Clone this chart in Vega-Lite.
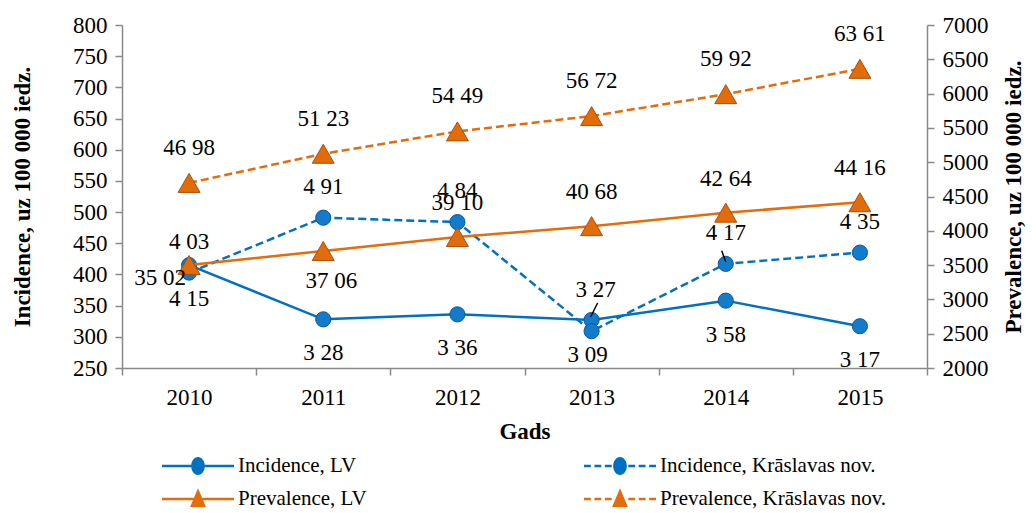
{
  "$schema": "https://vega.github.io/schema/vega-lite/v6.json",
  "width": 805,
  "height": 343,
  "autosize": {"type": "none"},
  "padding": {"left": 122, "top": 25, "right": 109, "bottom": 145},
  "background": "white",
  "config": {
    "font": "Liberation Serif",
    "view": {"stroke": null},
    "axis": {
      "grid": false,
      "domainColor": "#898989",
      "tickColor": "#898989",
      "domainWidth": 1.5,
      "tickWidth": 1.5,
      "tickSize": 7,
      "labelFont": "Liberation Serif",
      "labelFontSize": 23,
      "labelColor": "#000000",
      "titleFont": "Liberation Serif",
      "titleFontSize": 23,
      "titleFontWeight": "bold",
      "titleColor": "#000000"
    },
    "text": {"font": "Liberation Serif", "fontSize": 23, "color": "#000000", "baseline": "middle"}
  },
  "data": {
    "values": [
      {"year": 2010, "measure": "Incidence", "region": "LV", "series": "Incidence, LV", "value": 415, "label": "4 15"},
      {"year": 2011, "measure": "Incidence", "region": "LV", "series": "Incidence, LV", "value": 328, "label": "3 28"},
      {"year": 2012, "measure": "Incidence", "region": "LV", "series": "Incidence, LV", "value": 336, "label": "3 36"},
      {"year": 2013, "measure": "Incidence", "region": "LV", "series": "Incidence, LV", "value": 327, "label": "3 27"},
      {"year": 2014, "measure": "Incidence", "region": "LV", "series": "Incidence, LV", "value": 358, "label": "3 58"},
      {"year": 2015, "measure": "Incidence", "region": "LV", "series": "Incidence, LV", "value": 317, "label": "3 17"},
      {"year": 2010, "measure": "Incidence", "region": "Krāslavas nov.", "series": "Incidence, Krāslavas nov.", "value": 403, "label": "4 03"},
      {"year": 2011, "measure": "Incidence", "region": "Krāslavas nov.", "series": "Incidence, Krāslavas nov.", "value": 491, "label": "4 91"},
      {"year": 2012, "measure": "Incidence", "region": "Krāslavas nov.", "series": "Incidence, Krāslavas nov.", "value": 484, "label": "4 84"},
      {"year": 2013, "measure": "Incidence", "region": "Krāslavas nov.", "series": "Incidence, Krāslavas nov.", "value": 309, "label": "3 09"},
      {"year": 2014, "measure": "Incidence", "region": "Krāslavas nov.", "series": "Incidence, Krāslavas nov.", "value": 417, "label": "4 17"},
      {"year": 2015, "measure": "Incidence", "region": "Krāslavas nov.", "series": "Incidence, Krāslavas nov.", "value": 435, "label": "4 35"},
      {"year": 2010, "measure": "Prevalence", "region": "LV", "series": "Prevalence, LV", "value": 3502, "label": "35 02"},
      {"year": 2011, "measure": "Prevalence", "region": "LV", "series": "Prevalence, LV", "value": 3706, "label": "37 06"},
      {"year": 2012, "measure": "Prevalence", "region": "LV", "series": "Prevalence, LV", "value": 3910, "label": "39 10"},
      {"year": 2013, "measure": "Prevalence", "region": "LV", "series": "Prevalence, LV", "value": 4068, "label": "40 68"},
      {"year": 2014, "measure": "Prevalence", "region": "LV", "series": "Prevalence, LV", "value": 4264, "label": "42 64"},
      {"year": 2015, "measure": "Prevalence", "region": "LV", "series": "Prevalence, LV", "value": 4416, "label": "44 16"},
      {"year": 2010, "measure": "Prevalence", "region": "Krāslavas nov.", "series": "Prevalence, Krāslavas nov.", "value": 4698, "label": "46 98"},
      {"year": 2011, "measure": "Prevalence", "region": "Krāslavas nov.", "series": "Prevalence, Krāslavas nov.", "value": 5123, "label": "51 23"},
      {"year": 2012, "measure": "Prevalence", "region": "Krāslavas nov.", "series": "Prevalence, Krāslavas nov.", "value": 5449, "label": "54 49"},
      {"year": 2013, "measure": "Prevalence", "region": "Krāslavas nov.", "series": "Prevalence, Krāslavas nov.", "value": 5672, "label": "56 72"},
      {"year": 2014, "measure": "Prevalence", "region": "Krāslavas nov.", "series": "Prevalence, Krāslavas nov.", "value": 5992, "label": "59 92"},
      {"year": 2015, "measure": "Prevalence", "region": "Krāslavas nov.", "series": "Prevalence, Krāslavas nov.", "value": 6361, "label": "63 61"}
    ]
  },
  "encoding": {
    "x": {
      "field": "year",
      "type": "ordinal",
      "bandPosition": 0.5,
      "scale": {"type": "band", "paddingInner": 0, "paddingOuter": 0},
      "axis": {
        "title": "Gads",
        "labelAngle": 0,
        "tickBand": "extent",
        "labelPadding": 11,
        "titlePadding": 11
      }
    }
  },
  "layer": [
    {
      "transform": [{"filter": "datum.measure === 'Incidence'"}],
      "encoding": {
        "y": {
          "field": "value",
          "type": "quantitative",
          "scale": {"domain": [250, 800], "nice": false, "zero": false},
          "axis": {
            "orient": "left",
            "title": "Incidence, uz 100 000 iedz.",
            "values": [250, 300, 350, 400, 450, 500, 550, 600, 650, 700, 750, 800],
            "format": "d",
            "labelPadding": 8,
            "titlePadding": 38
          }
        }
      },
      "layer": [
        {
          "transform": [{"filter": "datum.region === 'LV'"}],
          "mark": {"type": "line", "color": "#0070C0", "strokeWidth": 2.5}
        },
        {
          "transform": [{"filter": "datum.region !== 'LV'"}],
          "mark": {"type": "line", "color": "#0070C0", "strokeWidth": 2.5, "strokeDash": [8, 4]}
        },
        {
          "mark": {"type": "point", "shape": "circle", "filled": true, "size": 230, "fill": "#137BCB", "stroke": "#0A5A9C", "strokeWidth": 1, "opacity": 1}
        },
        {
          "transform": [{"filter": "datum.region === 'LV' && datum.year === 2013"}],
          "mark": {"type": "rule", "color": "#000000", "strokeWidth": 1.5, "xOffset": -1, "yOffset": -3, "x2Offset": 6, "y2Offset": -17},
          "encoding": {"x2": {"field": "year"}, "y2": {"field": "value"}}
        },
        {
          "transform": [{"filter": "datum.region !== 'LV' && datum.year === 2014"}],
          "mark": {"type": "rule", "color": "#000000", "strokeWidth": 1.5, "xOffset": 0, "yOffset": -2, "x2Offset": -4, "y2Offset": -13},
          "encoding": {"x2": {"field": "year"}, "y2": {"field": "value"}}
        },
        {
          "transform": [{"filter": "datum.region === 'LV' && datum.year !== 2013"}],
          "mark": {"type": "text", "dy": 34},
          "encoding": {"text": {"field": "label"}}
        },
        {
          "transform": [{"filter": "datum.region === 'LV' && datum.year === 2013"}],
          "mark": {"type": "text", "dy": -30, "dx": 4},
          "encoding": {"text": {"field": "label"}}
        },
        {
          "transform": [{"filter": "datum.region !== 'LV' && datum.year !== 2013"}],
          "mark": {"type": "text", "dy": -31},
          "encoding": {"text": {"field": "label"}}
        },
        {
          "transform": [{"filter": "datum.region !== 'LV' && datum.year === 2013"}],
          "mark": {"type": "text", "dy": 24, "dx": -4},
          "encoding": {"text": {"field": "label"}}
        },
        {
          "transform": [{"filter": "datum.year < 0"}],
          "mark": {"type": "point", "filled": true, "size": 5184},
          "encoding": {
            "color": {
              "field": "series",
              "type": "nominal",
              "scale": {
                "domain": ["Incidence, LV", "Incidence, Krāslavas nov.", "Prevalence, LV", "Prevalence, Krāslavas nov."],
                "range": ["#0070C0", "#0070C0", "#E46C0A", "#E46C0A"]
              },
              "legend": {
                "title": null,
                "orient": "none",
                "direction": "horizontal",
                "legendX": 40,
                "legendY": 430,
                "columns": 2,
                "columnPadding": 217,
                "rowPadding": 11,
                "symbolSize": 5184,
                "symbolStrokeWidth": 0,
                "symbolOpacity": 1,
                "labelFont": "Liberation Serif",
                "labelFontSize": 21,
                "labelColor": "#000000",
                "labelOffset": 4,
                "labelLimit": 400,
                "clipHeight": 22,
                "padding": 0
              }
            },
            "shape": {
              "field": "series",
              "type": "nominal",
              "scale": {
                "domain": ["Incidence, LV", "Incidence, Krāslavas nov.", "Prevalence, LV", "Prevalence, Krāslavas nov."],
                "range": [
                  "M-1,-0.035H-0.19V0.035H-1Z M0.19,-0.035H1V0.035H0.19Z M-0.19,0A0.19,0.25 0 1,1 0.19,0A0.19,0.25 0 1,1 -0.19,0Z",
                  "M-1,-0.035H-0.81V0.035H-1Z M-0.71,-0.035H-0.52V0.035H-0.71Z M-0.42,-0.035H-0.23V0.035H-0.42Z M0.23,-0.035H0.42V0.035H0.23Z M0.52,-0.035H0.71V0.035H0.52Z M0.81,-0.035H1V0.035H0.81Z M-0.19,0A0.19,0.25 0 1,1 0.19,0A0.19,0.25 0 1,1 -0.19,0Z",
                  "M-1,-0.035H-0.12V0.035H-1Z M0.12,-0.035H1V0.035H0.12Z M0,-0.3L0.22,0.22H-0.22Z",
                  "M-1,-0.035H-0.81V0.035H-1Z M-0.71,-0.035H-0.52V0.035H-0.71Z M-0.42,-0.035H-0.23V0.035H-0.42Z M0.23,-0.035H0.42V0.035H0.23Z M0.52,-0.035H0.71V0.035H0.52Z M0.81,-0.035H1V0.035H0.81Z M0,-0.3L0.22,0.22H-0.22Z"
                ]
              },
              "legend": {
                "title": null,
                "orient": "none",
                "direction": "horizontal",
                "legendX": 40,
                "legendY": 430,
                "columns": 2,
                "columnPadding": 217,
                "rowPadding": 11,
                "symbolSize": 5184,
                "symbolStrokeWidth": 0,
                "symbolOpacity": 1,
                "labelFont": "Liberation Serif",
                "labelFontSize": 21,
                "labelColor": "#000000",
                "labelOffset": 4,
                "labelLimit": 400,
                "clipHeight": 22,
                "padding": 0
              }
            }
          }
        }
      ]
    },
    {
      "transform": [{"filter": "datum.measure === 'Prevalence'"}],
      "encoding": {
        "y": {
          "field": "value",
          "type": "quantitative",
          "scale": {"domain": [2000, 7000], "nice": false, "zero": false},
          "axis": {
            "orient": "right",
            "title": "Prevalence, uz 100 000 iedz.",
            "titleAngle": 270,
            "titleBaseline": "top",
            "values": [2000, 2500, 3000, 3500, 4000, 4500, 5000, 5500, 6000, 6500, 7000],
            "format": "d",
            "labelPadding": 8,
            "titlePadding": 14
          }
        }
      },
      "layer": [
        {
          "transform": [{"filter": "datum.region === 'LV'"}],
          "mark": {"type": "line", "color": "#E46C0A", "strokeWidth": 2.5}
        },
        {
          "transform": [{"filter": "datum.region !== 'LV'"}],
          "mark": {"type": "line", "color": "#E46C0A", "strokeWidth": 2.5, "strokeDash": [8, 4]}
        },
        {
          "mark": {"type": "point", "shape": "triangle-up", "filled": true, "size": 480, "fill": "#E36C0A", "stroke": "#A94F07", "strokeWidth": 1, "opacity": 1}
        },
        {
          "transform": [{"filter": "datum.region !== 'LV'"}],
          "mark": {"type": "text", "dy": -35},
          "encoding": {"text": {"field": "label"}}
        },
        {
          "transform": [{"filter": "datum.region === 'LV' && datum.year === 2010"}],
          "mark": {"type": "text", "dy": 13, "dx": -29},
          "encoding": {"text": {"field": "label"}}
        },
        {
          "transform": [{"filter": "datum.region === 'LV' && datum.year === 2011"}],
          "mark": {"type": "text", "dy": 30, "dx": 8},
          "encoding": {"text": {"field": "label"}}
        },
        {
          "transform": [{"filter": "datum.region === 'LV' && datum.year >= 2012"}],
          "mark": {"type": "text", "dy": -34},
          "encoding": {"text": {"field": "label"}}
        }
      ]
    }
  ],
  "resolve": {"scale": {"y": "independent"}}
}
